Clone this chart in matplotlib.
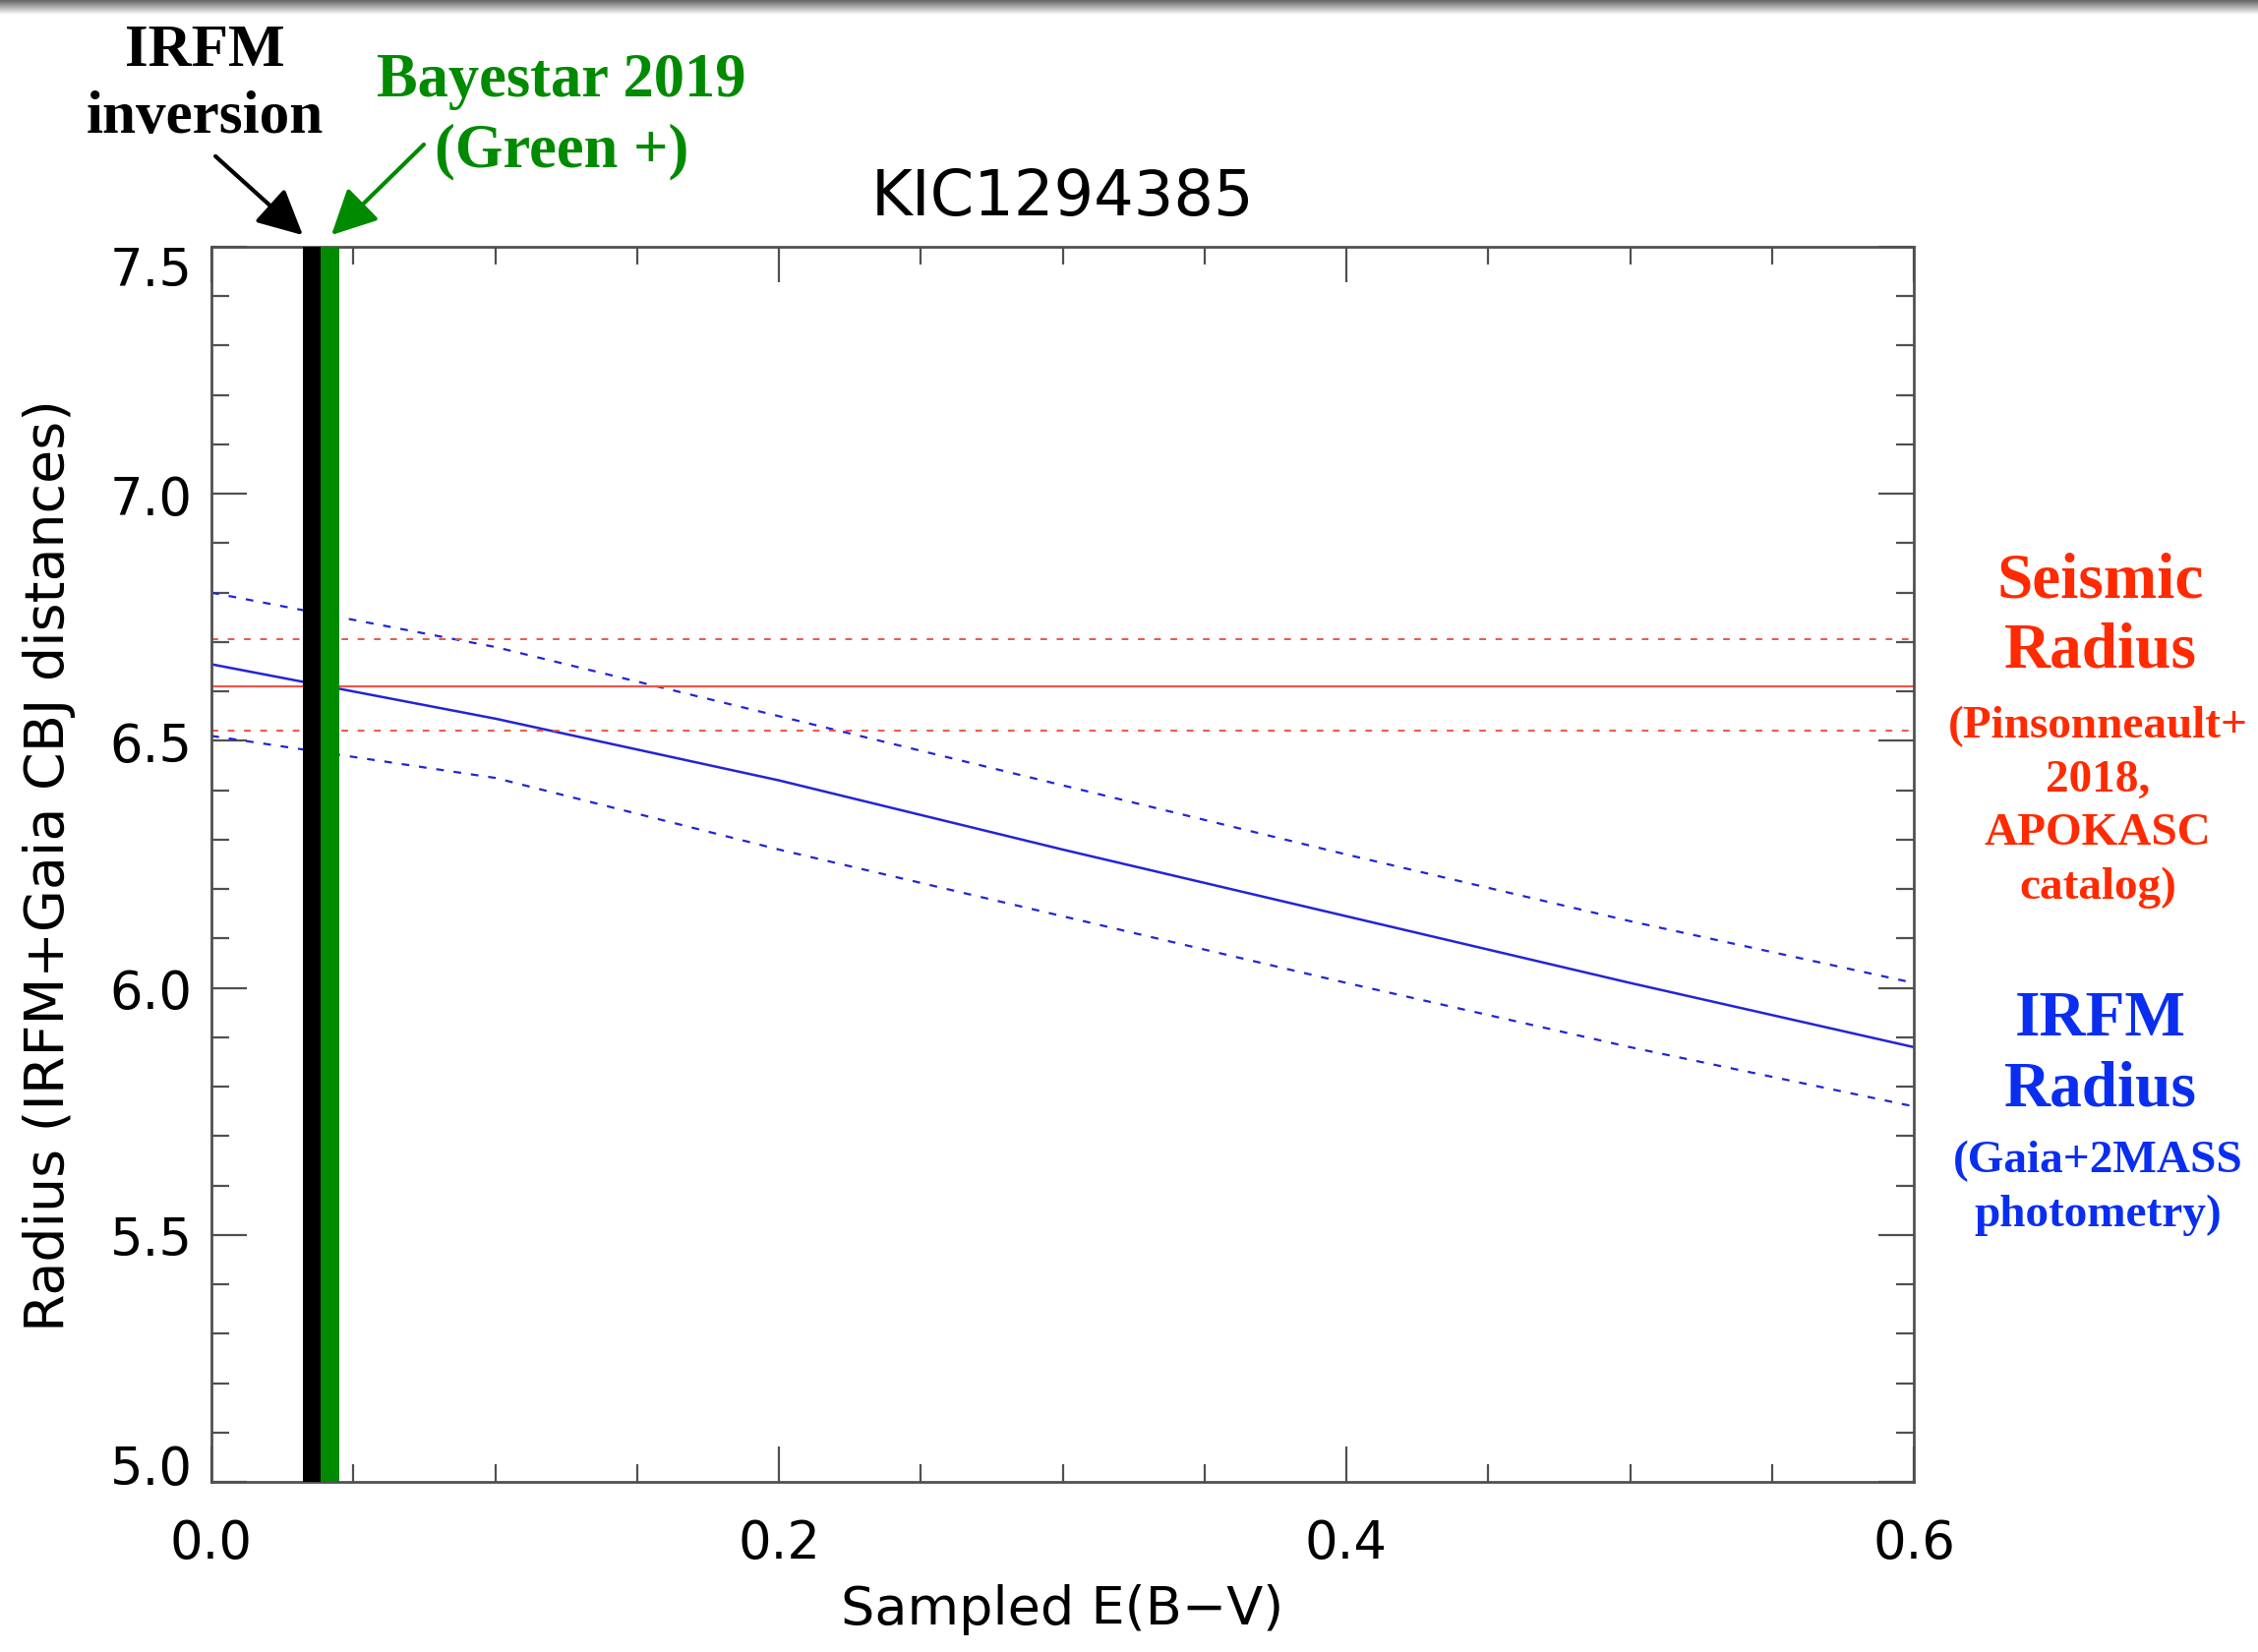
import numpy as np
import matplotlib
matplotlib.use("Agg")
import matplotlib.pyplot as plt
import matplotlib.transforms as mtransforms
from matplotlib.patches import FancyArrowPatch

# ---------------- data ----------------
ebv = [0.0, 0.1, 0.2, 0.3, 0.4, 0.5, 0.6]
r_irfm = [6.655, 6.545, 6.42, 6.28, 6.145, 6.01, 5.88]
r_irfm_hi = [6.80, 6.69, 6.55, 6.41, 6.27, 6.135, 6.01]
r_irfm_lo = [6.51, 6.425, 6.28, 6.145, 6.01, 5.88, 5.76]
r_seis = 6.61
r_seis_hi = 6.705
r_seis_lo = 6.52
ebv_irfm_inv = (0.0321, 0.0385)
ebv_bayestar = (0.0385, 0.0451)
xticks = [0.0, 0.2, 0.4, 0.6]
xticklabels = ["0.0", "0.2", "0.4", "0.6"]
yticks = [5.0, 5.5, 6.0, 6.5, 7.0, 7.5]
yticklabels = ["5.0", "5.5", "6.0", "6.5", "7.0", "7.5"]

W, H = 2296, 1681
fig = plt.figure(figsize=(W / 100, H / 100), dpi=100)
fig.patch.set_facecolor("white")


def fx(x):
    return x / W


def fy(y):
    return 1 - y / H


# top gray gradient (screenshot edge)
gax = fig.add_axes([0, fy(16), 1, 16 / H])
grad = np.linspace(0.35, 1.0, 64).reshape(-1, 1)
gax.imshow(grad, aspect="auto", cmap="gray", vmin=0, vmax=1, extent=[0, 1, 0, 1])
gax.set_axis_off()

ax = fig.add_axes([fx(215), fy(1508), (1946 - 215) / W, (1508 - 252) / H])

sans = ["DejaVu Sans"]
serif = ["Liberation Serif", "DejaVu Serif"]

blue = "#2323d8"
red = "#ef5548"

ax.plot(ebv, r_irfm, color=blue, lw=1.8, zorder=2)
ax.plot(ebv, r_irfm_hi, color=blue, lw=1.6, ls=(0, (3.5, 4.5)), zorder=2)
ax.plot(ebv, r_irfm_lo, color=blue, lw=1.6, ls=(0, (3.5, 4.5)), zorder=2)

ax.axhline(r_seis, color=red, lw=1.6, zorder=2)
ax.axhline(r_seis_hi, color=red, lw=1.4, ls=(0, (3.5, 5)), zorder=2)
ax.axhline(r_seis_lo, color=red, lw=1.4, ls=(0, (3.5, 5)), zorder=2)

ax.axvspan(*ebv_irfm_inv, color="black", lw=0, zorder=3)
ax.axvspan(*ebv_bayestar, color="#008a00", lw=0, zorder=3)

ax.set_xlim(0, 0.6)
ax.set_ylim(5.0, 7.5)
ax.set_xticks(xticks)
ax.set_xticklabels(xticklabels)
ax.set_yticks(yticks)
ax.set_yticklabels(yticklabels)
ax.set_xticks(np.arange(0, 0.6001, 0.05), minor=True)
ax.set_yticks(np.arange(5.0, 7.5001, 0.1), minor=True)

spine_c = "#505050"
for s in ax.spines.values():
    s.set_color(spine_c)
    s.set_linewidth(2.0)
ax.tick_params(which="both", direction="in", top=True, right=True, color=spine_c,
               width=1.6, labelsize=38, labelcolor="black")
ax.tick_params(which="major", length=26)
ax.tick_params(which="minor", length=13)
ax.tick_params(axis="x", which="major", pad=26)
ax.tick_params(axis="y", which="major", pad=14)
for lab in ax.get_xticklabels() + ax.get_yticklabels():
    lab.set_family(sans)

# shift extreme y labels inward like the reference
ylabs = ax.get_yticklabels()
ylabs[0].set_transform(ylabs[0].get_transform() +
                       mtransforms.ScaledTranslation(0, 18 / 100, fig.dpi_scale_trans))
ylabs[-1].set_transform(ylabs[-1].get_transform() +
                        mtransforms.ScaledTranslation(0, -18 / 100, fig.dpi_scale_trans))

ax.set_title("KIC1294385", fontsize=46, family=sans, pad=24)
ax.set_xlabel("Sampled E(B\u2212V)", fontsize=39, family=sans, va="center")
ax.xaxis.set_label_coords(0.5, -(1637 - 1508) / (1508 - 252))
ax.set_ylabel("Radius (IRFM+Gaia CBJ distances)", fontsize=40, family=sans, va="center")
ax.yaxis.set_label_coords(-(215 - 50) / (1946 - 215), 0.5)

# ---------------- annotations ----------------
green = "#008a00"
fig.text(fx(208), fy(86), "IRFM\ninversion", ha="center", va="center", fontsize=44,
         fontweight="bold", family=serif, color="black", linespacing=1.30)
fig.text(fx(571), fy(119), "Bayestar 2019\n(Green +)", ha="center", va="center",
         fontsize=45, fontweight="bold", family=serif, color=green, linespacing=1.30)

fig.add_artist(FancyArrowPatch(
    (fx(217), fy(158)), (fx(310), fy(242)), transform=fig.transFigure,
    arrowstyle="-|>,head_length=2.0,head_width=1.0", mutation_scale=14,
    color="black", lw=3))
fig.add_artist(FancyArrowPatch(
    (fx(433), fy(146)), (fx(335), fy(242)), transform=fig.transFigure,
    arrowstyle="-|>,head_length=2.0,head_width=1.0", mutation_scale=14,
    color=green, lw=3))

seis_c = "#ff2a00"
irfm_c = "#0a2ef0"
fig.text(fx(2136), fy(627), "Seismic\nRadius", ha="center", va="center", fontsize=47,
         fontweight="bold", family=serif, color=seis_c, linespacing=1.22)
fig.text(fx(2133), fy(821), "(Pinsonneault+\n2018,\nAPOKASC\ncatalog)", ha="center",
         va="center", fontsize=34, fontweight="bold", family=serif, color=seis_c,
         linespacing=1.39)
fig.text(fx(2136), fy(1073), "IRFM\nRadius", ha="center", va="center", fontsize=47,
         fontweight="bold", family=serif, color=irfm_c, linespacing=1.24)
fig.text(fx(2133), fy(1208), "(Gaia+2MASS\nphotometry)", ha="center", va="center",
         fontsize=34, fontweight="bold", family=serif, color=irfm_c, linespacing=1.39)

fig.savefig("out.png", dpi=100, facecolor="white")
